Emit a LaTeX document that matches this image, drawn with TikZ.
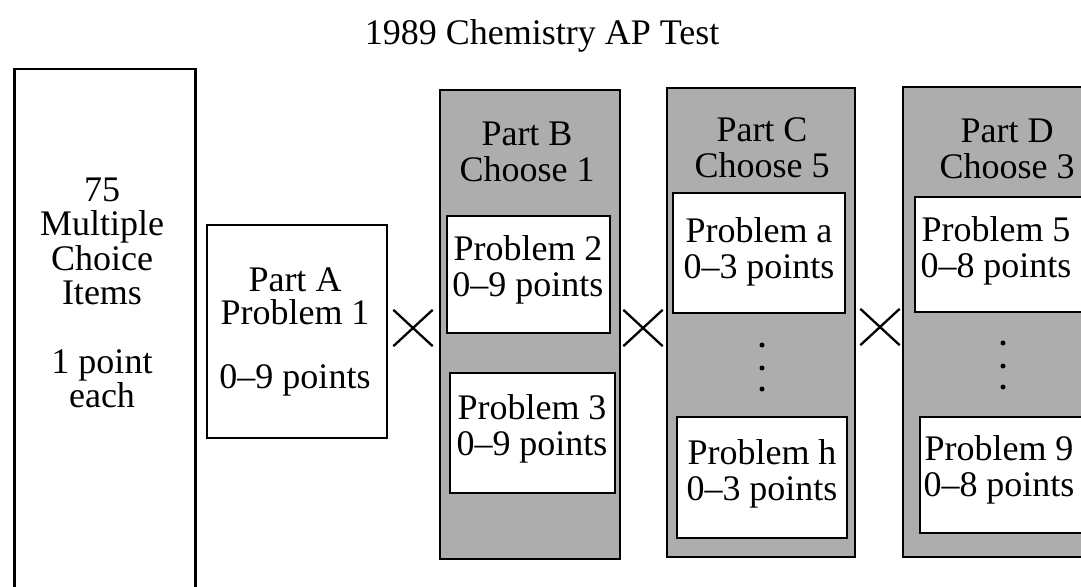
\documentclass[tikz,border=0pt]{standalone}
\usepackage{fontspec}
\setmainfont{Liberation Serif}
\usetikzlibrary{shapes.misc}
\begin{document}
\begin{tikzpicture}[x=1pt,y=-1pt,
  txt/.style={font=\fontsize{36}{36}\selectfont, inner sep=0pt, align=center},
  col/.style={draw=black, line width=2.8pt, fill=black!32, inner sep=0pt},
  pbox/.style={draw=black, line width=2.5pt, fill=white, inner sep=0pt},
  crossmark/.style={cross out, draw=black, line width=2.3pt, minimum width=37pt, minimum height=34pt, inner sep=0pt},
  dotmark/.style={circle, fill=black, inner sep=0pt, minimum size=5pt}
]
\useasboundingbox (0,0) rectangle (1081,586);

% title
\node[txt] (title) at (542,36) {1989 Chemistry AP Test};

% multiple choice
\node[pbox, minimum width=181pt, minimum height=560pt, anchor=north west] (mc) at (13,68) {};
\node[txt, font=\fontsize{36}{34.5}\selectfont] (mctxt) at (102,293) {75\\Multiple\\Choice\\Items\\[34pt]1 point\\each};

% part A
\node[pbox, minimum width=180pt, minimum height=213pt] (pa) at (297,331.5) {};
\node[txt, font=\fontsize{36}{33}\selectfont] (patxt) at (295,332) {Part A\\Problem 1\\[31pt]0–9 points};

% columns
\node[col, minimum width=180pt, minimum height=469pt] (colB) at (530,324.5) {};
\node[col, minimum width=188pt, minimum height=469pt] (colC) at (761,322.5) {};
\node[col, minimum width=197pt, minimum height=470pt] (colD) at (1001.5,322) {};

\node[txt] (hB) at (527,152) {Part B\\Choose 1};
\node[txt] (hC) at (762,148) {Part C\\Choose 5};
\node[txt] (hD) at (1007,149) {Part D\\Choose 3};

% problem boxes
\node[pbox, minimum width=163pt, minimum height=117pt] (p2) at (528.5,274.5) {};
\node[txt] (p2t) at (528,269.5) {Problem 2\\0–9 points};
\node[pbox, minimum width=165pt, minimum height=120pt] (p3) at (532.5,433) {};
\node[txt] (p3t) at (532,428.5) {Problem 3\\0–9 points};

\node[pbox, minimum width=172pt, minimum height=120pt] (pca) at (759,253) {};
\node[txt] (pcat) at (759,251.5) {Problem a\\0–3 points};
\node[pbox, minimum width=170pt, minimum height=121pt] (pch) at (762,477.5) {};
\node[txt] (pcht) at (762,474) {Problem h\\0–3 points};

\node[pbox, minimum width=167pt, minimum height=115pt] (p5) at (998.5,254.5) {};
\node[txt] (p5t) at (996,250.5) {Problem 5\\0–8 points};
\node[pbox, minimum width=166pt, minimum height=116pt] (p9) at (1003,475) {};
\node[txt] (p9t) at (999,469.5) {Problem 9\\0–8 points};

% dots
\node[dotmark] (cd1) at (762,345) {};
\node[dotmark] (cd2) at (762,368) {};
\node[dotmark] (cd3) at (762,389) {};
\node[dotmark] (dd1) at (1003,343) {};
\node[dotmark] (dd2) at (1003,366) {};
\node[dotmark] (dd3) at (1003,387) {};

% crosses
\node[crossmark] (x1) at (413,328) {};
\node[crossmark] (x2) at (643,328) {};
\node[crossmark] (x3) at (880,327) {};
\end{tikzpicture}
\end{document}
